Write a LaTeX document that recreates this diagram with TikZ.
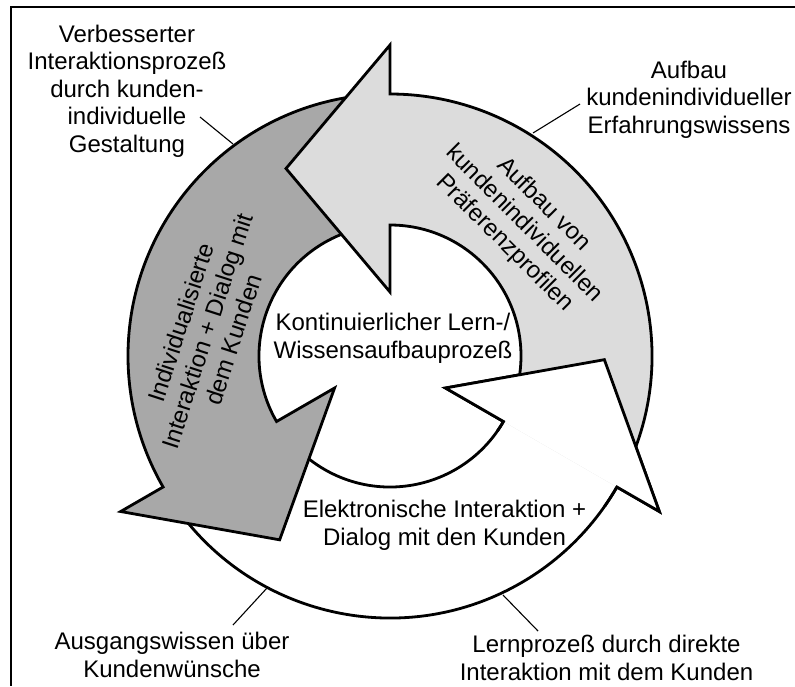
\documentclass[tikz,border=0pt]{standalone}
\usepackage{fontspec}
\setmainfont{Liberation Sans}
\definecolor{lightg}{RGB}{220,220,220}
\definecolor{darkg}{RGB}{168,168,168}
\newcommand{\cyclearrow}[3]{%
  \fill[#3] (#1:262) arc[start angle=#1, end angle=#2, radius=262]
    -- (#2:311) -- ({#2+29.02}:214.4) -- (#2:64) -- (#2:131)
    arc[start angle=#2, end angle=#1, radius=131] -- cycle;
  \draw[outline] (#1:262) arc[start angle=#1, end angle=#2, radius=262]
    -- (#2:311) -- ({#2+29.02}:214.4) -- (#2:64) -- (#2:131)
    arc[start angle=#2, end angle=#1, radius=131];
}
\begin{document}
\begin{tikzpicture}[x=1pt, y=1pt,
  lbl/.style={font=\fontsize{24}{27.5}\selectfont, align=center, inner sep=0pt, anchor=base},
  inlbl/.style={font=\fontsize{24}{27.5}\selectfont, align=center, inner sep=0pt, anchor=center},
  outline/.style={line width=2.8pt, line join=miter},
  leader/.style={line width=1.1pt}]
\useasboundingbox (0,0) rectangle (795,-686);
\fill[white] (0,0) rectangle (795,-686);
\draw[line width=2pt] (795,-6.5) -- (11,-6.5) -- (11,-686);

\begin{scope}[shift={(390,-356)}]
  \cyclearrow{210}{330}{white}
  \cyclearrow{90}{210}{darkg}
  \cyclearrow{-30}{90}{lightg}
  % white head again, over the light body
  \fill[white] (330:311) -- (359.02:214.4) -- (330:64) -- cycle;
  \draw[outline] (325:262) arc[start angle=325, end angle=330, radius=262]
    -- (330:311) -- (359.02:214.4) -- (330:64) -- (330:131)
    arc[start angle=330, end angle=325, radius=131];
\end{scope}

\node[inlbl, rotate=72] (darktxt) at (207,-331) {Individualisierte\\Interaktion + Dialog mit\\dem Kunden};
\node[inlbl, rotate=-45] (lighttxt) at (524,-224) {Aufbau von\\kundenindividuellen\\Präferenzprofilen};

\node[lbl] (tl) at (127,-152) {Verbesserter\\Interaktionsprozeß\\durch kunden-\\individuelle\\Gestaltung};
\node[lbl] (tr) at (689,-133) {Aufbau\\kundenindividueller\\Erfahrungswissens};
\node[lbl] (ctr) at (393,-358) {Kontinuierlicher Lern-/\\Wissensaufbauprozeß};
\node[lbl] (bm) at (444.5,-545) {Elektronische Interaktion +\\Dialog mit den Kunden};
\node[lbl] (bl) at (172,-677) {Ausgangswissen über\\Kundenwünsche};
\node[lbl] (br) at (606.5,-680) {Lernprozeß durch direkte\\Interaktion mit dem Kunden};

\coordinate (tlA) at (200,-117);
\coordinate (tlB) at (233,-144);
\coordinate (trA) at (580,-104);
\coordinate (trB) at (533,-133);
\coordinate (blA) at (233,-625);
\coordinate (blB) at (267,-588);
\coordinate (brA) at (538,-631);
\coordinate (brB) at (503,-595);
\draw[leader] (tlA) -- (tlB);
\draw[leader] (trA) -- (trB);
\draw[leader] (blA) -- (blB);
\draw[leader] (brA) -- (brB);
\end{tikzpicture}
\end{document}
